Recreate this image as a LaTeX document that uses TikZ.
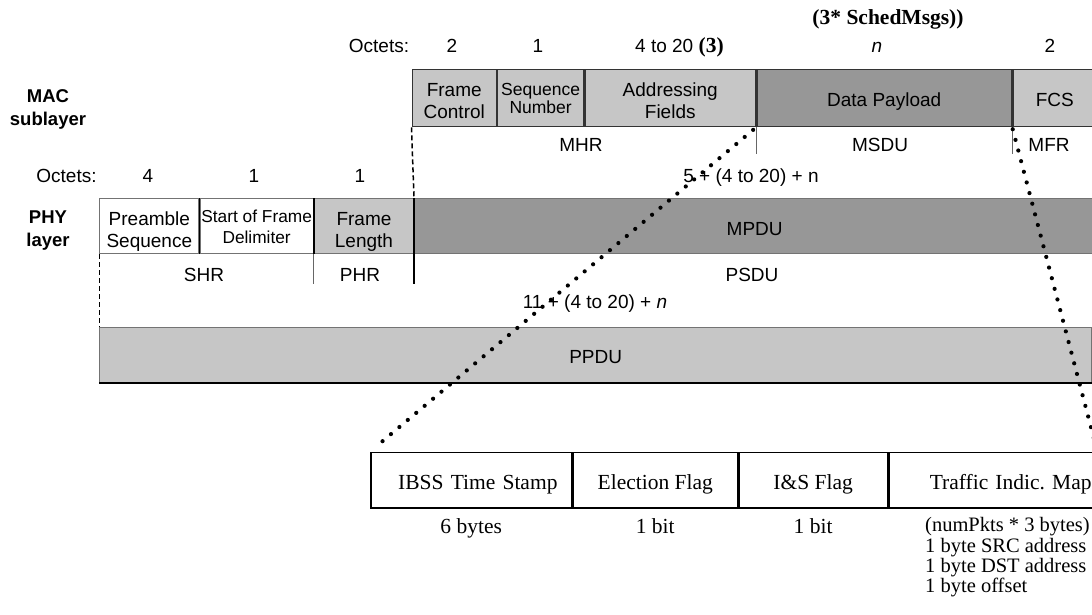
\documentclass[tikz,border=0pt]{standalone}
\usepackage{fontspec}
\setmainfont{Liberation Serif}
\newfontfamily\arialfont{Liberation Sans}
\usetikzlibrary{calc}
\definecolor{fieldlight}{RGB}{198,198,198}
\definecolor{fielddark}{RGB}{151,151,151}
% font sizes (1pt = 1 unit of the drawing)
\newcommand\sflarge{\arialfont\fontsize{19}{22}\selectfont}
\newcommand\sfmid{\arialfont\fontsize{17.3}{21.6}\selectfont}
\newcommand\sfsmall{\arialfont\fontsize{17.5}{18.5}\selectfont}
\newcommand\sfbold{\arialfont\bfseries\fontsize{18.5}{23}\selectfont}
\newcommand\rmlarge{\fontsize{21.5}{24}\selectfont}
\newcommand\rmbold{\bfseries\fontsize{21.5}{24}\selectfont}
\newcommand\rmlist{\fontsize{20.5}{20.3}\selectfont}
% stacked lines, baseline on the last line
\newcommand\stk[1]{\begin{tabular}[b]{@{}c@{}}#1\end{tabular}}
\begin{document}
\begin{tikzpicture}[x=1pt,y=-1pt,
  macfield/.style={anchor=north west,inner sep=0pt,minimum height=57pt,
    draw=black!80,line width=1.3pt,font=\sflarge,fill=fieldlight},
  phyfield/.style={anchor=north west,inner sep=0pt,minimum height=54.7pt,
    draw=black!55,line width=1.1pt,font=\sflarge,fill=white},
  cell/.style={anchor=north west,inner sep=0pt,minimum height=55.6pt,
    draw=black,line width=1.6pt,font=\rmlarge,text height=17.6pt,text depth=0pt},
  lift/.style={text height=#1,text depth=0pt},
  lbl/.style={anchor=base,inner sep=0pt,font=\sflarge},
  note/.style={anchor=base,inner sep=0pt,font=\rmlarge},
  listline/.style={anchor=base west,inner sep=0pt,font=\rmlist},
  divider/.style={draw=black,line width=1.4pt},
  sep/.style={draw=black!60,line width=1.1pt},
  dashconn/.style={draw=black,line width=1.5pt,dash pattern=on 5pt off 3pt},
  dotconn/.style={draw=black,line width=4.2pt,line cap=round,dash pattern=on 0pt off 11pt}]

\fill[white] (0,0) rectangle (1092,615);
\path[use as bounding box] (0,0) rectangle (1092,615);

% ---------- MAC sublayer ----------
\node[anchor=base,inner sep=0pt,font=\sfbold] (maclab) at (48,125) {\stk{MAC\\sublayer}};

\node[lbl] (oct1) at (379,53) {Octets:};
\node[lbl] (o1a) at (452,53) {2};
\node[lbl] (o1b) at (538,53) {1};
\node[anchor=base west,inner sep=0pt,font=\sflarge] (o1c) at (635,53) {4 to 20 {\rmfamily\rmbold(3)}};
\node[lbl] (o1d) at (877,53) {\itshape n};
\node[lbl] (o1e) at (1050,53) {2};
\node[anchor=base,inner sep=0pt,font=\rmbold] (sched) at (888,25) {(3* SchedMsgs))};

\node[macfield,minimum width=84.2pt,lift=41.6pt] (fc) at (411.5,69) {\stk{Frame\\Control}};
\node[macfield,minimum width=86pt,lift=31.6pt,font=\sfsmall] (sn) at (fc.north east) {\stk{Sequence\\Number}};
\node[macfield,minimum width=170.6pt,lift=41.6pt] (af) at (sn.north east) {\stk{Addressing\\Fields}};
\node[macfield,minimum width=254.7pt,lift=17pt,fill=fielddark] (dp) at (af.north east) {Data Payload};
\node[macfield,minimum width=84pt,lift=17pt] (fcs) at (dp.north east) {FCS};

\draw[sep] (af.south east) -- ++(0,27);
\draw[sep] (dp.south east) -- ++(0,27);
\node[lbl] (mhr) at (581,152) {MHR};
\node[lbl] (msdu) at (880,152) {MSDU};
\node[lbl] (mfr) at (1049,152) {MFR};

\node[lbl] (oct2) at (66.5,182) {Octets:};
\node[lbl] (o2a) at (148,182) {4};
\node[lbl] (o2b) at (254,182) {1};
\node[lbl] (o2c) at (360,182) {1};
\node[lbl] (maclen) at (751,182) {5 + (4 to 20) + n};

% ---------- PHY layer ----------
\node[anchor=base,inner sep=0pt,font=\sfbold] (phylab) at (48,246.7) {\stk{PHY\\layer}};

\node[phyfield,minimum width=99pt,lift=42.2pt] (ps) at (99.3,198.3) {\stk{Preamble\\Sequence}};
\node[phyfield,minimum width=113.4pt,lift=35.4pt,font=\sfmid] (sfd) at (ps.north east) {\stk{Start of Frame\\Delimiter}};
\node[phyfield,minimum width=99pt,lift=42.2pt,fill=fieldlight] (fl) at (sfd.north east) {\stk{Frame\\Length}};
\node[phyfield,minimum width=680.3pt,lift=18.8pt,fill=fielddark] (mpdu) at (fl.north east) {MPDU};

\draw[divider] (ps.north east) -- (ps.south east);
\draw[divider] (sfd.north east) -- (sfd.south east);
\draw[divider] (fl.north east) -- (fl.south east);
\draw[sep] (sfd.south east) -- ++(0,30);
\draw[divider] (fl.south east) -- ++(0,30);

\node[lbl] (shr) at (204,281.5) {SHR};
\node[lbl] (phr) at (360,281.5) {PHR};
\node[lbl] (psdu) at (752,281) {PSDU};
\node[lbl] (phylen) at (595,308) {11 + (4 to 20) + {\itshape n}};

\node[phyfield,minimum width=991.7pt,minimum height=55pt,lift=18.2pt,fill=fieldlight] (ppdu) at (99.3,326.7) {PPDU};
\draw[draw=black,line width=1.8pt] (ppdu.south west) -- (ppdu.south east);

\draw[dashconn] (fc.south west) -- (mpdu.north west);
\draw[dashconn] (ps.south west) -- (ppdu.north west);

% ---------- payload fields ----------
\node[cell,minimum width=200.7pt,inner xsep=14pt,text width=172.7pt,align=right] (ibss) at (370,451.7) {IBSS Time Stamp};
\node[cell,minimum width=164.3pt] (elec) at (ibss.north east) {Election Flag};
\node[cell,minimum width=148.3pt] (isf) at (elec.north east) {I\&S Flag};
\node[cell,minimum width=207.7pt,inner xsep=5pt,text width=197.7pt,align=right] (tim) at (isf.north east) {Traffic Indic.\ Map};

\node[note] (ibsssz) at (ibss.south |- 0,533) {6 bytes};
\node[note] (elecsz) at (elec.south |- 0,533) {1 bit};
\node[note] (isfsz) at (isf.south |- 0,533) {1 bit};
\node[listline] (tim1) at (925,531.7) {(numPkts * 3 bytes)};
\node[listline] (tim2) at (925,552.3) {1 byte SRC address};
\node[listline] (tim3) at (925,572.3) {1 byte DST address};
\node[listline] (tim4) at (925,592.3) {1 byte offset};

% ---------- zoom lines ----------
\draw[dotconn,shorten <=4pt,shorten >=9pt] (af.south east) -- (ibss.north west);
\draw[dotconn,shorten <=2pt,shorten >=3pt] (dp.south east) -- (tim.north east);
\end{tikzpicture}
\end{document}
